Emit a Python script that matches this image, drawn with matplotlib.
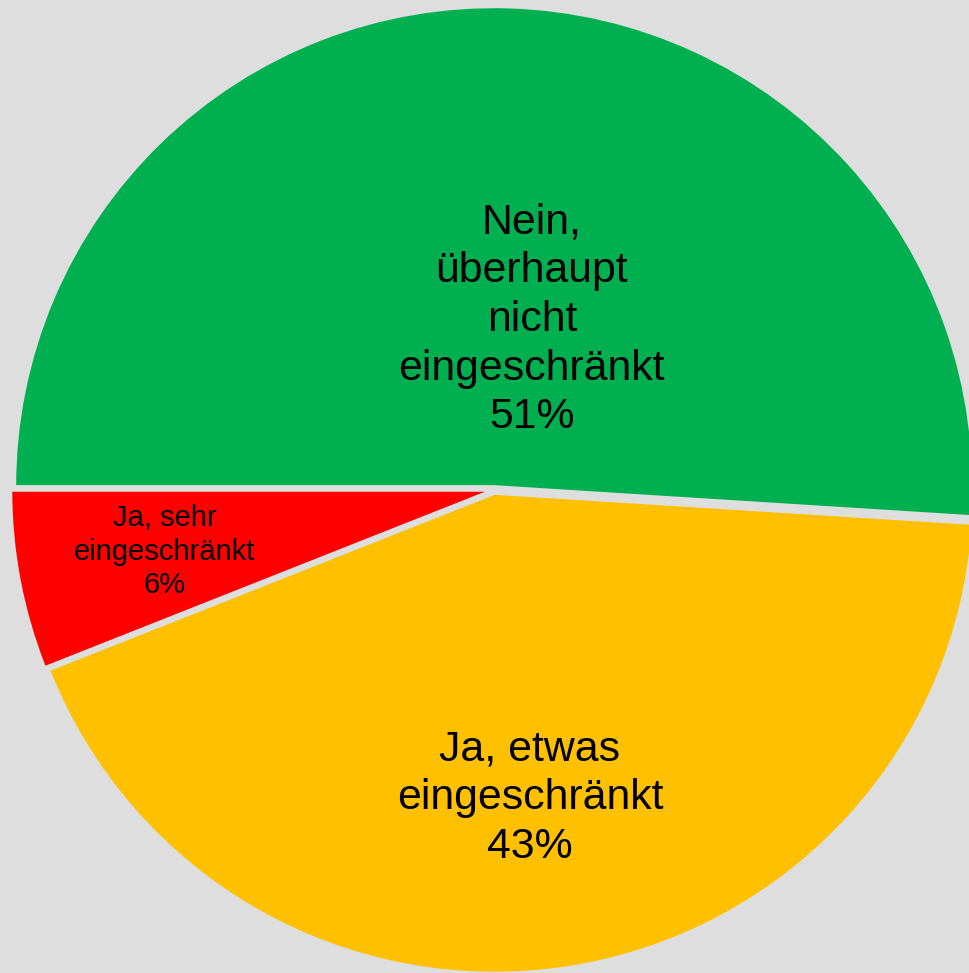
import matplotlib
matplotlib.use("Agg")
import matplotlib.pyplot as plt

# Survey answers and their shares (percent)
categories = ["Nein,\nüberhaupt\nnicht\neingeschränkt", "Ja, etwas\neingeschränkt", "Ja, sehr\neingeschränkt"]
shares = [51, 43, 6]
colors = ["#00B050", "#FFC000", "#FF0000"]

bg = "#DEDEDE"
W, H = 969, 973
fig = plt.figure(figsize=(W / 100, H / 100), dpi=100, facecolor=bg)
ax = fig.add_axes([0, 0, 1, 1])
ax.set_facecolor(bg)

# pie centre and radius in pixels
cx, cy, R = 494, 490, 479

wedges, _ = ax.pie(
    shares,
    colors=colors,
    startangle=180,
    counterclock=False,
    explode=[0.008, 0.008, 0.008],
    wedgeprops=dict(edgecolor=bg, linewidth=1.5),
    radius=1.0,
)

ax.set_xlim(-cx / R, (W - cx) / R)
ax.set_ylim(-(H - cy) / R, cy / R)
ax.set_aspect("equal")
ax.axis("off")

font = ["Liberation Sans", "DejaVu Sans"]
label_pos = [(0.079, 0.355), (0.075, -0.643), (-0.688, -0.129)]
label_size = [30.8, 30.8, 21]
label_spacing = [1.28, 1.28, 1.25]
for name, val, (x, y), fs, ls in zip(categories, shares, label_pos, label_size, label_spacing):
    ax.text(x, y, f"{name}\n{val}%", ha="center", va="center", fontsize=fs,
            family=font, color="black", linespacing=ls)

fig.savefig("out.png", dpi=100, facecolor=bg)
